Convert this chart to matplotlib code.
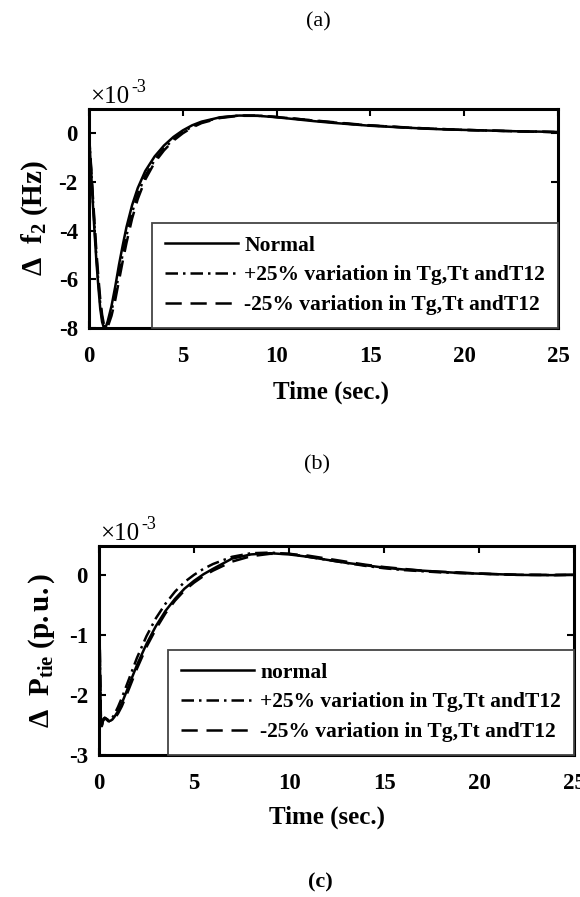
import numpy as np
import matplotlib
matplotlib.use("Agg")
import matplotlib.pyplot as plt

plt.rcParams['font.family'] = ['Liberation Serif', 'DejaVu Serif']
plt.rcParams['mathtext.fontset'] = 'custom'
plt.rcParams['mathtext.rm'] = 'Liberation Serif'
plt.rcParams['mathtext.bf'] = 'Liberation Serif:bold'
plt.rcParams['mathtext.it'] = 'Liberation Serif:italic'
plt.rcParams['axes.unicode_minus'] = False

# ---- frequency deviation of area 2 (x 1e-3 Hz) ----
t_f = [0, 0.1, 0.2, 0.3, 0.4, 0.5, 0.6, 0.7, 0.8, 0.9, 1.0, 1.2, 1.4, 1.6, 1.8,
       2.0, 2.3, 2.6, 3.0, 3.5, 4.0, 4.5, 5.0, 5.5, 6.0, 7.0, 8.0, 9.0, 10, 11,
       12, 13, 14, 15, 16, 17, 18, 19, 20, 21, 22, 23, 24, 25]
f_normal = [0, -1.4, -2.8, -4.1, -5.3, -6.3, -7.2, -7.75, -8.0, -7.95, -7.72, -7.1,
            -6.3, -5.4, -4.6, -3.85, -2.95, -2.25, -1.55, -0.95, -0.5, -0.15, 0.12,
            0.33, 0.48, 0.66, 0.73, 0.72, 0.66, 0.58, 0.5, 0.43, 0.37, 0.31, 0.27,
            0.23, 0.19, 0.16, 0.14, 0.12, 0.10, 0.08, 0.07, 0.05]
f_plus = [0, -1.3, -2.6, -3.9, -5.1, -6.1, -7.0, -7.6, -7.92, -8.0, -7.85, -7.3,
          -6.6, -5.75, -4.95, -4.2, -3.25, -2.5, -1.75, -1.1, -0.62, -0.25, 0.05,
          0.28, 0.45, 0.65, 0.73, 0.73, 0.67, 0.6, 0.52, 0.45, 0.38, 0.32, 0.28,
          0.23, 0.2, 0.17, 0.14, 0.12, 0.1, 0.08, 0.07, 0.05]
f_minus = [0, -1.2, -2.5, -3.7, -4.9, -5.9, -6.8, -7.45, -7.87, -8.0, -7.95, -7.5,
           -6.85, -6.05, -5.25, -4.5, -3.5, -2.7, -1.9, -1.2, -0.7, -0.3, 0.0,
           0.24, 0.42, 0.63, 0.72, 0.72, 0.67, 0.6, 0.53, 0.46, 0.39, 0.33, 0.28,
           0.24, 0.2, 0.17, 0.14, 0.12, 0.1, 0.08, 0.06, 0.05]

# ---- tie-line power deviation (x 1e-3 p.u.) ----
t_p = [0, 0.05, 0.1, 0.15, 0.2, 0.3, 0.4, 0.5, 0.6, 0.7, 0.8, 1.0, 1.2, 1.5, 2.0,
       2.5, 3.0, 3.5, 4.0, 4.5, 5.0, 5.5, 6.0, 7.0, 8.0, 9.0, 10, 11, 12, 13, 14,
       15, 16, 17, 18, 19, 20, 21, 22, 23, 24, 25]
p_normal = [0, -1.5, -2.4, -2.5, -2.42, -2.38, -2.4, -2.43, -2.43, -2.41, -2.37,
            -2.27, -2.14, -1.9, -1.5, -1.15, -0.85, -0.6, -0.4, -0.23, -0.1, 0.01,
            0.1, 0.27, 0.34, 0.36, 0.34, 0.3, 0.25, 0.2, 0.16, 0.12, 0.09, 0.07,
            0.05, 0.03, 0.02, 0.01, 0.0, -0.005, -0.005, 0.0]
p_plus = [0, -1.5, -2.4, -2.5, -2.42, -2.38, -2.4, -2.42, -2.41, -2.38, -2.33,
          -2.2, -2.05, -1.8, -1.38, -1.02, -0.72, -0.48, -0.28, -0.12, 0.0, 0.1,
          0.18, 0.3, 0.36, 0.37, 0.35, 0.3, 0.25, 0.2, 0.15, 0.11, 0.08, 0.06,
          0.04, 0.03, 0.02, 0.01, 0.0, 0.0, -0.005, 0.0]
p_minus = [0, -1.5, -2.42, -2.52, -2.44, -2.39, -2.41, -2.44, -2.44, -2.43, -2.4,
           -2.31, -2.19, -1.96, -1.56, -1.2, -0.9, -0.64, -0.43, -0.26, -0.13,
           -0.02, 0.07, 0.22, 0.31, 0.35, 0.35, 0.32, 0.27, 0.22, 0.17, 0.13, 0.1,
           0.07, 0.05, 0.04, 0.02, 0.01, 0.0, 0.0, 0.0, 0.0]

x_ticks = [0, 5, 10, 15, 20, 25]
var_label = 'variation in Tg,Tt andT12'

DASHDOT = (0, (5, 2, 1, 2))
DASHED = (0, (6.5, 3.5))

fig = plt.figure(figsize=(5.8, 8.97), dpi=100)


def style_axes(ax, yticks, ylim):
    ax.set_xlim(0, 25)
    ax.set_ylim(*ylim)
    ax.set_xticks(x_ticks)
    ax.set_yticks(yticks)
    ax.tick_params(direction='in', top=True, right=True, length=5, width=1.5,
                   labelsize=16.5)
    ax.tick_params(axis='x', pad=13)
    ax.tick_params(axis='y', pad=8)
    for lbl in ax.get_xticklabels() + ax.get_yticklabels():
        lbl.set_fontweight('bold')
    for sp in ax.spines.values():
        sp.set_linewidth(2.2)


def add_legend(ax, first):
    leg = ax.legend([first, '+25% ' + var_label, '-25% ' + var_label],
                    loc='lower right', bbox_to_anchor=(1.0, 0.0),
                    borderaxespad=0, fancybox=False, handlelength=3.4,
                    handletextpad=0.3, labelspacing=0.45, borderpad=0.6,
                    prop={'weight': 'bold', 'size': 15.5})
    leg.get_frame().set_edgecolor('#444444')
    leg.get_frame().set_linewidth(1.3)
    leg.get_frame().set_alpha(1)


def exponent(x_px, y_px):
    # "x10^-3" scale marker, hyphen kept as typed
    fig.text(x_px / 580, 1 - y_px / 897, '\u00d710', fontsize=18,
             ha='left', va='baseline')
    fig.text((x_px + 41) / 580, 1 - (y_px - 11) / 897, '-3', fontsize=13,
             ha='left', va='baseline')


# (a) panel: frequency deviation
ax1 = fig.add_axes([0.1534, 0.6343, 0.8086, 0.2442])
ax1.plot(t_f, f_normal, color='k', lw=1.8, ls='-')
ax1.plot(t_f, f_plus, color='k', lw=1.8, ls=DASHDOT)
ax1.plot(t_f, f_minus, color='k', lw=1.8, ls=DASHED)
style_axes(ax1, [-8, -6, -4, -2, 0], (-8, 1))
ax1.set_ylabel(r'$\mathbf{\Delta\ \ f_2\ (Hz)}$', fontsize=21)
ax1.yaxis.set_label_coords(-0.083, 0.5)
ax1.set_xlabel('Time (sec.)', fontsize=18, fontweight='bold')
ax1.xaxis.set_label_coords(0.516, -0.242)
add_legend(ax1, 'Normal')

# (b) panel: tie-line power deviation
ax2 = fig.add_axes([0.1707, 0.1583, 0.8190, 0.2330])
ax2.plot(t_p, p_normal, color='k', lw=1.8, ls='-')
ax2.plot(t_p, p_plus, color='k', lw=1.8, ls=DASHDOT)
ax2.plot(t_p, p_minus, color='k', lw=1.8, ls=DASHED)
style_axes(ax2, [-3, -2, -1, 0], (-3, 0.48))
ax2.set_ylabel(r'$\mathbf{\Delta\ \ P_{tie}\ (p.u.)}$', fontsize=21)
ax2.yaxis.set_label_coords(-0.088, 0.5)
ax2.set_xlabel('Time (sec.)', fontsize=18, fontweight='bold')
ax2.xaxis.set_label_coords(0.48, -0.244)
add_legend(ax2, 'normal')

exponent(90, 103)
exponent(100, 540)

# sub-figure captions
fig.text(318 / 580, 1 - 22 / 897, '(a)', fontsize=16, ha='center', va='center')
fig.text(317 / 580, 1 - 465 / 897, '(b)', fontsize=16, ha='center', va='center')
fig.text(320 / 580, 1 - 882 / 897, '(c)', fontsize=16, ha='center', va='center',
         fontweight='bold')

fig.savefig('out.png', dpi=100)
